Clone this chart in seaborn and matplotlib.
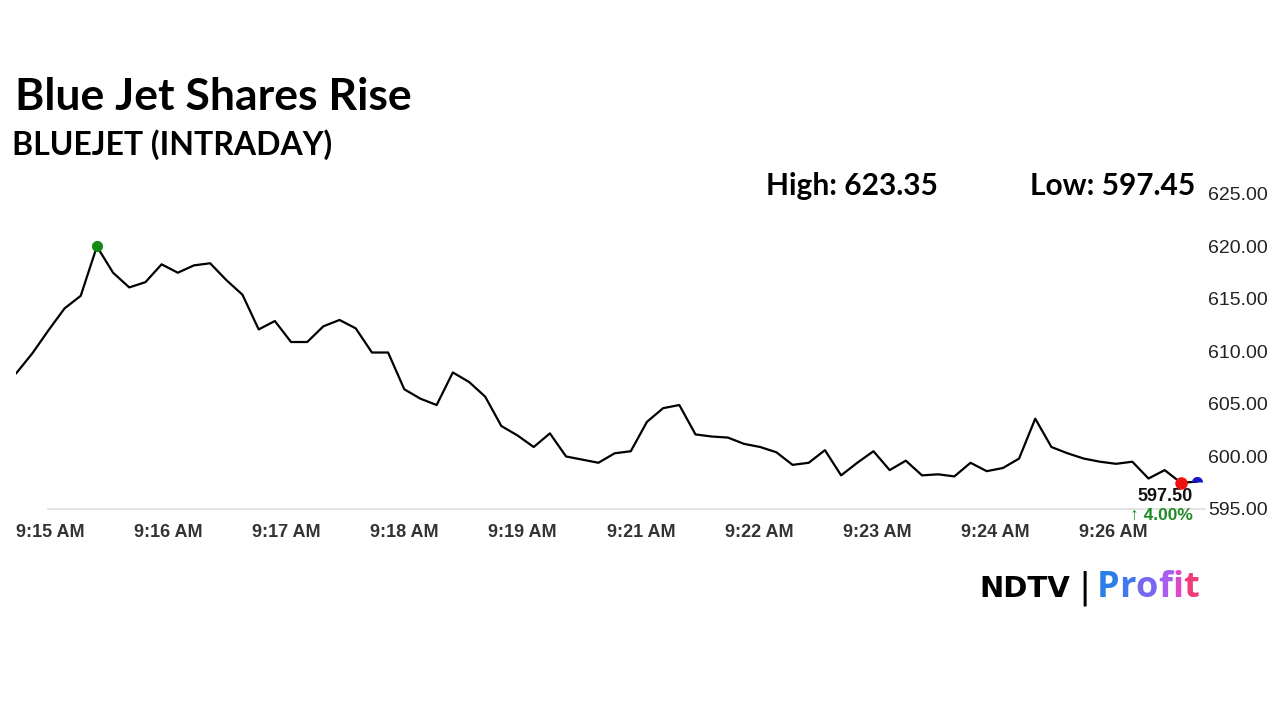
import numpy as np
import seaborn as sns
import matplotlib.pyplot as plt
from matplotlib.offsetbox import TextArea, HPacker, AnnotationBbox

# Intraday prices (one point every few seconds)
prices = [607.9, 609.8, 612.0, 614.1, 615.3, 620.0, 617.5, 616.1, 616.6, 618.3,
          617.5, 618.2, 618.4, 616.8, 615.4, 612.1, 612.9, 610.9, 610.9, 612.4,
          613.0, 612.2, 609.9, 609.9, 606.4, 605.5, 604.9, 608.0, 607.1, 605.7,
          602.9, 602.0, 600.9, 602.2, 600.0, 599.7, 599.4, 600.3, 600.5, 603.3,
          604.6, 604.9, 602.1, 601.9, 601.8, 601.2, 600.9, 600.4, 599.2, 599.4,
          600.6, 598.2, 599.4, 600.5, 598.7, 599.6, 598.2, 598.3, 598.1, 599.4,
          598.6, 598.9, 599.8, 603.6, 600.9, 600.3, 599.8, 599.5, 599.3, 599.5,
          597.9, 598.7, 597.5, 597.6]
time_labels = ['9:15 AM', '9:16 AM', '9:17 AM', '9:18 AM', '9:19 AM',
               '9:21 AM', '9:22 AM', '9:23 AM', '9:24 AM', '9:26 AM']
y_ticks = [595, 600, 605, 610, 615, 620, 625]

title = 'Blue Jet Shares Rise'
subtitle = 'BLUEJET (INTRADAY)'
day_high = 623.35
day_low = 597.45
last_price = 597.50
change_pct = 4.00

sns.set_style('white')
plt.rcParams['font.family'] = ['Liberation Sans', 'DejaVu Sans']

points = np.arange(len(prices))

fig = plt.figure(figsize=(12.8, 7.2), dpi=100)
ax = fig.add_axes([0.0125, 0.2931, 0.929, 0.4375])

sns.lineplot(x=points, y=prices, color='black', linewidth=1.6, ax=ax)

# high / low / last markers
i_max = int(np.argmax(prices))
i_min = int(np.argmin(prices))
ax.plot(points[i_max], prices[i_max], 'o', color='#138a13', ms=7, zorder=5)
ax.plot(points[i_min], prices[i_min], 'o', color='#ee1111', ms=8, zorder=5)
ax.plot(points[-1], prices[-1], 'o', color='#1515c8', ms=8, mew=0,
        fillstyle='top', markerfacecoloralt='none', zorder=5)

ax.annotate(f'{last_price:.2f}', xy=(points[-1], prices[-1]), xytext=(-3, -11),
            textcoords='offset points', ha='right', va='center', fontsize=13,
            fontweight='bold', color='#111111', annotation_clip=False)
ax.annotate(f'\u2191 {change_pct:.2f}%', xy=(points[-1], prices[-1]), xytext=(-3, -24),
            textcoords='offset points', ha='right', va='center', fontsize=12.5,
            family=['Liberation Sans', 'DejaVu Sans'], fontweight='bold',
            color='#1f8b24', annotation_clip=False)

xmax = len(prices) - 0.5
ax.set_xlim(0, xmax)
ax.set_ylim(y_ticks[0], y_ticks[-1])
ax.set_xticks(np.arange(len(time_labels)) * 7.3)
ax.set_xticklabels(time_labels, ha='left', fontweight='bold')
ax.set_yticks(y_ticks)
ax.set_yticklabels([f'{v:.2f}' for v in y_ticks])
ax.yaxis.tick_right()
ax.set_xlabel('')
ax.set_ylabel('')

ax.tick_params(axis='x', length=6, direction='out', color='#dddddd',
               labelsize=13, labelcolor='#333333', pad=5)
ax.tick_params(axis='y', length=0, labelsize=14, labelcolor='#222222', pad=2)
for s in ['top', 'left', 'right']:
    ax.spines[s].set_visible(False)
ax.spines['bottom'].set_color('#dddddd')
ax.spines['bottom'].set_linewidth(1.2)
ax.spines['bottom'].set_bounds(2, xmax)

# headings
fig.text(15 / 1280, 1 - 110 / 720, title, family='Lato', fontweight='bold',
         fontsize=32, va='baseline', color='black')
fig.text(12 / 1280, 1 - 155 / 720, subtitle, family='Lato', fontweight='bold',
         fontsize=23, va='baseline', color='black')
fig.text(766 / 1280, 1 - 195 / 720, f'High: {day_high:.2f}', family='Lato',
         fontweight='bold', fontsize=21.5, va='baseline', color='black')
fig.text(1030 / 1280, 1 - 195 / 720, f'Low: {day_low:.2f}', family='Lato',
         fontweight='bold', fontsize=21.5, va='baseline', color='black')

# logo
logo_colors = ['#2a7fe6', '#3f78ee', '#7768f0', '#a85cf0', '#e048cc', '#f03c78']
parts = [TextArea('NDTV', textprops=dict(family='DejaVu Sans', fontweight='bold',
                                         fontsize=21, color='black')),
         TextArea('|', textprops=dict(family='DejaVu Sans', fontsize=26, color='black'))]
for ch, c in zip('Profit', logo_colors):
    parts.append(TextArea(ch, textprops=dict(family='Open Sans', fontweight='bold',
                                             fontsize=26, color=c)))
logo = HPacker(children=parts[:2], align='baseline', pad=0, sep=6)
word = HPacker(children=parts[2:], align='baseline', pad=0, sep=0)
logo = HPacker(children=[logo, word], align='baseline', pad=0, sep=4)
fig.add_artist(AnnotationBbox(logo, (1199 / 1280, 1 - 588 / 720), xycoords='figure fraction',
                              box_alignment=(1, 0.5), frameon=False))

plt.savefig('out.png', dpi=100)
